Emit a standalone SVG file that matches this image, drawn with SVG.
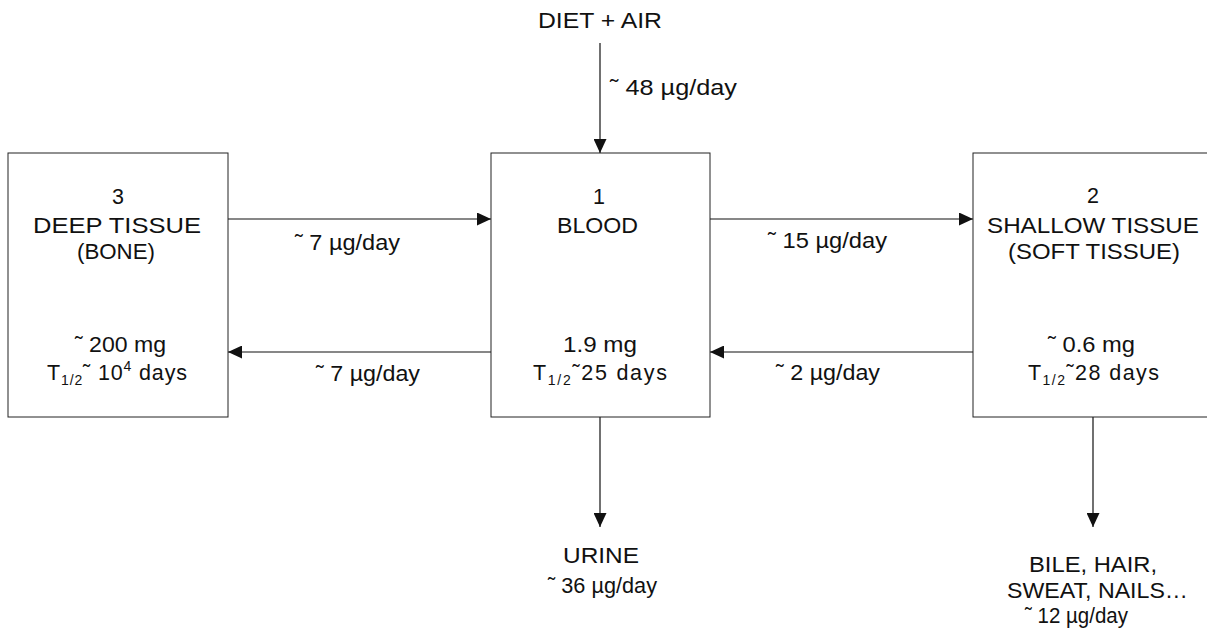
<svg xmlns="http://www.w3.org/2000/svg" width="1207" height="631" viewBox="0 0 1207 631">
<style>
text{font-family:"Liberation Sans",Arial,sans-serif;font-size:21.5px;fill:#111}
.c{text-anchor:middle}
.box{fill:#fff;stroke:#222;stroke-width:1}
.ln{stroke:#111;stroke-width:1.2;fill:none;marker-end:url(#ah)}
.s{font-size:14px}
</style>
<defs>
<marker id="ah" markerUnits="userSpaceOnUse" markerWidth="14" markerHeight="13" refX="14" refY="6.5" orient="auto">
<path d="M0,0 L14,6.5 L0,13 z" fill="#111"/>
</marker>
</defs>
<rect width="1207" height="631" fill="#fff"/>
<g id="connectors">
<line class="ln" x1="600" y1="43" x2="600" y2="153"/>
<line class="ln" x1="228" y1="219" x2="491" y2="219"/>
<line class="ln" x1="491" y1="352" x2="228" y2="352"/>
<line class="ln" x1="710" y1="219" x2="973" y2="219"/>
<line class="ln" x1="973" y1="352" x2="710" y2="352"/>
<line class="ln" x1="600" y1="417" x2="600" y2="527"/>
<line class="ln" x1="1093" y1="417" x2="1093" y2="527"/>
</g>
<g id="node3">
<rect class="box" x="8" y="153" width="220" height="264"/>
<text class="c" x="118" y="204">3</text>
<text x="33" y="233" textLength="168" lengthAdjust="spacingAndGlyphs">DEEP TISSUE</text>
<text x="77" y="259" textLength="78" lengthAdjust="spacingAndGlyphs">(BONE)</text>
<text x="75" y="352" textLength="91" lengthAdjust="spacingAndGlyphs">˜ 200 mg</text>
<text x="47" y="380" textLength="140" lengthAdjust="spacing">T<tspan class="s" dy="5">1/2</tspan><tspan dy="-5">˜ 10</tspan><tspan class="s" dy="-9">4</tspan><tspan dy="9"> days</tspan></text>
</g>
<g id="node1">
<rect class="box" x="491" y="153" width="219" height="264"/>
<text class="c" x="599" y="204">1</text>
<text x="557" y="233" textLength="81" lengthAdjust="spacingAndGlyphs">BLOOD</text>
<text x="563" y="352" textLength="74" lengthAdjust="spacingAndGlyphs">1.9 mg</text>
<text x="533" y="380" textLength="134" lengthAdjust="spacing">T<tspan class="s" dy="5">1/2</tspan><tspan dy="-5">˜25 days</tspan></text>
</g>
<g id="node2">
<rect class="box" x="973" y="153" width="240" height="264"/>
<text class="c" x="1093" y="203">2</text>
<text x="987" y="233" textLength="212" lengthAdjust="spacingAndGlyphs">SHALLOW TISSUE</text>
<text x="1008" y="259" textLength="172" lengthAdjust="spacingAndGlyphs">(SOFT TISSUE)</text>
<text x="1048" y="352" textLength="87" lengthAdjust="spacingAndGlyphs">˜ 0.6 mg</text>
<text x="1028" y="380" textLength="131" lengthAdjust="spacing">T<tspan class="s" dy="5">1/2</tspan><tspan dy="-5">˜28 days</tspan></text>
</g>
<g id="source">
<text x="538" y="28" textLength="124" lengthAdjust="spacingAndGlyphs">DIET + AIR</text>
</g>
<g id="urine">
<text x="563" y="563" textLength="76" lengthAdjust="spacingAndGlyphs">URINE</text>
<text x="548" y="593" textLength="109" lengthAdjust="spacingAndGlyphs">˜ 36 µg/day</text>
</g>
<g id="other">
<text x="1029" y="572" textLength="128" lengthAdjust="spacingAndGlyphs">BILE, HAIR,</text>
<text x="1007" y="598" textLength="181" lengthAdjust="spacingAndGlyphs">SWEAT, NAILS…</text>
<text x="1025" y="623" textLength="103" lengthAdjust="spacingAndGlyphs">˜ 12 µg/day</text>
</g>
<g id="labels">
<text x="610" y="95" textLength="127" lengthAdjust="spacingAndGlyphs">˜ 48 µg/day</text>
<text x="295" y="250" textLength="105" lengthAdjust="spacingAndGlyphs">˜ 7 µg/day</text>
<text x="316" y="381" textLength="104" lengthAdjust="spacingAndGlyphs">˜ 7 µg/day</text>
<text x="768" y="248" textLength="119" lengthAdjust="spacingAndGlyphs">˜ 15 µg/day</text>
<text x="776" y="380" textLength="104" lengthAdjust="spacingAndGlyphs">˜ 2 µg/day</text>
</g>
</svg>
